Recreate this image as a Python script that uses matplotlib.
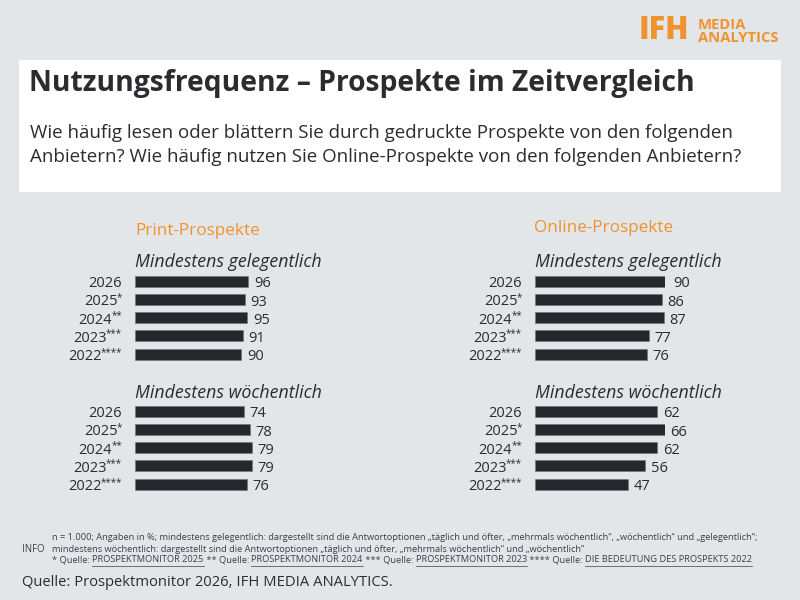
import matplotlib
matplotlib.use("Agg")
import matplotlib.pyplot as plt
from matplotlib.patches import Rectangle
from matplotlib.lines import Line2D

# ---------------- data ----------------
years = ["2026", "2025*", "2024**", "2023***", "2022****"]
print_gelegentlich = [96, 93, 95, 91, 90]
print_woechentlich = [74, 78, 79, 79, 76]
online_gelegentlich = [90, 86, 87, 77, 76]
online_woechentlich = [62, 66, 62, 56, 47]

panel_titles = ["Print-Prospekte", "Online-Prospekte"]
section_titles = ["Mindestens gelegentlich", "Mindestens wöchentlich"]

title = "Nutzungsfrequenz – Prospekte im Zeitvergleich"
subtitle = ["Wie häufig lesen oder blättern Sie durch gedruckte Prospekte von den folgenden",
            "Anbietern? Wie häufig nutzen Sie Online-Prospekte von den folgenden Anbietern?"]
foot1 = ("n = 1.000; Angaben in %; mindestens gelegentlich: dargestellt sind die Antwortoptionen "
         "„täglich und öfter, „mehrmals wöchentlich“, „wöchentlich“ und „gelegentlich“;")
foot2 = ("mindestens wöchentlich: dargestellt sind die Antwortoptionen „täglich und öfter, "
         "„mehrmals wöchentlich“ und „wöchentlich“")
foot3 = [("* Quelle: ", False), ("PROSPEKTMONITOR 2025", True), (" ** Quelle: ", False),
         ("PROSPEKTMONITOR 2024", True), (" *** Quelle: ", False), ("PROSPEKTMONITOR 2023", True),
         (" **** Quelle: ", False), ("DIE BEDEUTUNG DES PROSPEKTS 2022", True)]
source = "Quelle: Prospektmonitor 2026, IFH MEDIA ANALYTICS."

# ---------------- style ----------------
BG = "#e3e6e9"
BAR = "#24272c"
ORANGE = "#f0922e"
TXT = "#2a2c30"
FONT = ["Open Sans", "DejaVu Sans"]
plt.rcParams["font.family"] = FONT

W, H = 800, 600
fig = plt.figure(figsize=(8, 6), dpi=100, facecolor=BG)
fig.canvas.draw()
renderer = fig.canvas.get_renderer()

def fx(x):
    return x / W

def fy(y):
    return 1 - y / H

# white header box
fig.patches.append(Rectangle((fx(19), fy(192)), fx(781) - fx(19), fy(60) - fy(192),
                             transform=fig.transFigure, facecolor="white", edgecolor="none", zorder=0))
fig.text(fx(29), fy(84), title, fontsize=20.3, fontweight="bold", color=TXT, va="center", ha="left")
fig.text(fx(30), fy(133), subtitle[0], fontsize=13.5, color=TXT, va="center", ha="left")
fig.text(fx(30), fy(157), subtitle[1], fontsize=13.5, color=TXT, va="center", ha="left")

# logo
fig.text(fx(639), fy(31), "IFH", fontsize=22, fontweight="heavy", color=ORANGE, va="center", ha="left")
fig.text(fx(698), fy(25), "MEDIA", fontsize=10.6, fontweight="bold", color=ORANGE, va="center", ha="left")
fig.text(fx(698), fy(37.5), "ANALYTICS", fontsize=10.6, fontweight="bold", color=ORANGE, va="center", ha="left")

# ---------------- bar panels ----------------
panels = [
    (135, 272, 110, print_gelegentlich),
    (135, 402, 88, print_woechentlich),
    (535, 272, 88, online_gelegentlich),
    (535, 402, 66, online_woechentlich),
]
AX_W = 130
AX_H = 91.25
for x0, y0, xmax, vals in panels:
    ax = fig.add_axes([fx(x0), fy(y0 + AX_H), AX_W / W, AX_H / H])
    ax.set_facecolor("none")
    pos = list(range(len(years)))
    ax.barh(pos, vals, height=0.6, color=BAR, edgecolor="#6f7378", linewidth=0.4)
    ax.set_xlim(0, xmax)
    ax.set_ylim(len(years) - 0.5, -0.5)
    ax.set_yticks(pos, labels=[""] * len(years))
    ax.tick_params(axis="y", length=0)
    ax.set_xticks([])
    for s in ax.spines.values():
        s.set_visible(False)
    for p, v in zip(pos, vals):
        ax.annotate(f"{v}", (v, p), xytext=(4, -0.5), textcoords="offset points",
                    va="center_baseline", ha="left", fontsize=10.5, color=TXT,
                    annotation_clip=False)
    # year labels: digits plus small raised asterisks, right aligned
    xr = x0 - 13
    for p, lab in zip(pos, years):
        yc = y0 + AX_H * (p + 0.5) / len(years)
        digits = lab.rstrip("*")
        stars = lab[len(digits):]
        xd = xr
        if stars:
            st = fig.text(fx(xr), fy(yc - 3.5), stars, fontsize=7, color=TXT,
                          va="center_baseline", ha="right")
            bb = st.get_window_extent(renderer=renderer)
            xd = bb.x0 + 0.8
        fig.text(fx(xd), fy(yc + 0.5), digits, fontsize=10.5, color=TXT,
                 va="center_baseline", ha="right")

# section and panel titles
fig.text(fx(135), fy(231), panel_titles[0], fontsize=12.3, color=ORANGE, va="center", ha="left")
fig.text(fx(534), fy(228), panel_titles[1], fontsize=12.3, color=ORANGE, va="center", ha="left")
for xs in (135, 535):
    fig.text(fx(xs), fy(262), section_titles[0], fontsize=12.8, style="italic", color=TXT,
             va="center", ha="left")
    fig.text(fx(xs), fy(393), section_titles[1], fontsize=12.8, style="italic", color=TXT,
             va="center", ha="left")

# ---------------- footnotes ----------------
FOOT_FS = 6.7
FOOT_C = "#3c3f44"
fig.text(fx(22), fy(549), "INFO", fontsize=FOOT_FS + 0.2, color=FOOT_C, va="center", ha="left")
fig.text(fx(52), fy(537), foot1, fontsize=FOOT_FS, color=FOOT_C, va="center", ha="left")
fig.text(fx(52), fy(549), foot2, fontsize=FOOT_FS, color=FOOT_C, va="center", ha="left")

xcur = 52
for txt, underline in foot3:
    t = fig.text(fx(xcur), fy(560), txt, fontsize=FOOT_FS, color=FOOT_C, va="center", ha="left")
    bb = t.get_window_extent(renderer=renderer)
    if underline:
        fig.lines.append(Line2D([bb.x0 / W, bb.x1 / W], [fy(565.5), fy(565.5)],
                                transform=fig.transFigure, color=FOOT_C, linewidth=0.5))
    xcur = bb.x1

fig.text(fx(22), fy(583), source, fontsize=10.6, color=TXT, va="center", ha="left")

fig.savefig("out.png", dpi=100, facecolor=BG)
